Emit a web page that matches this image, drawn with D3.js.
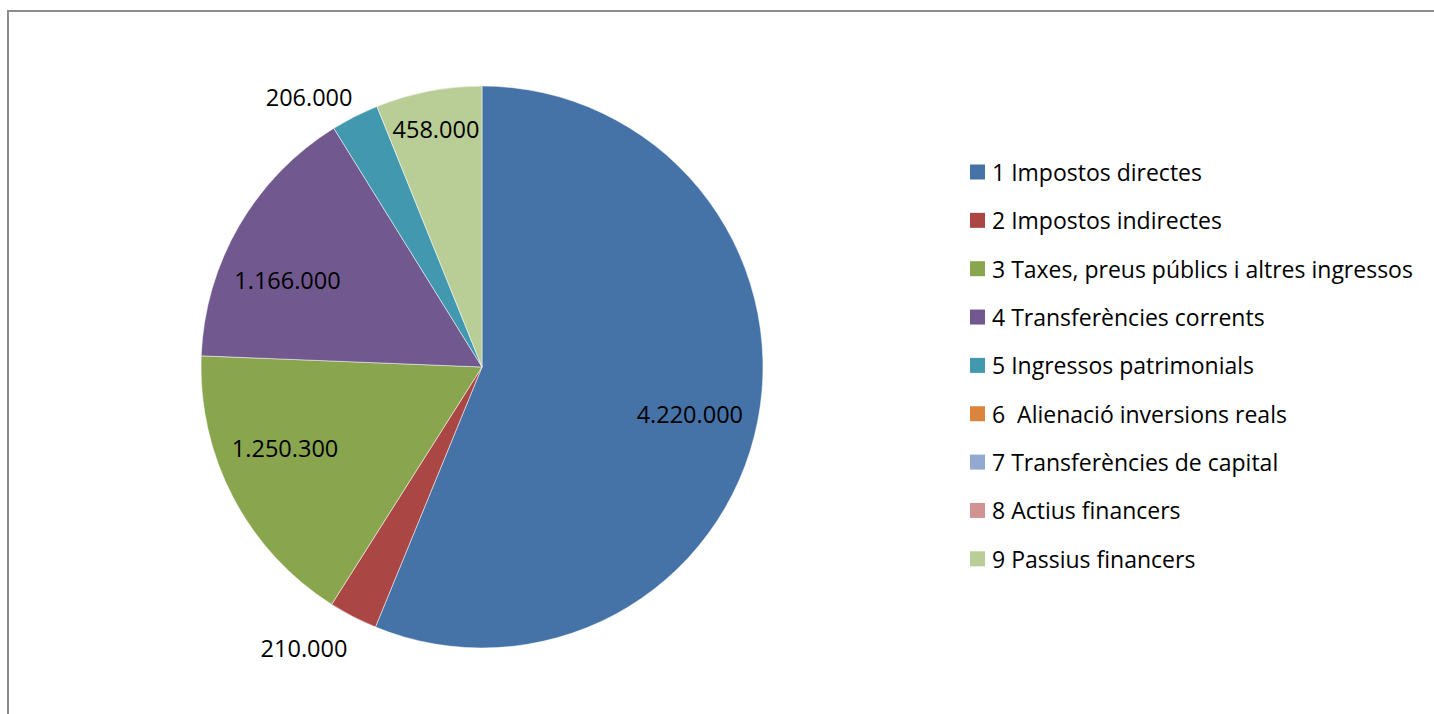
<!DOCTYPE html>
<html lang="ca">
<head>
<meta charset="UTF-8">
<title>Ingressos</title>
<script src="https://d3js.org/d3.v7.min.js"></script>
<style>
  body { margin: 0; background: #fff; }
  svg { display: block; font-family: "Open Sans", Lato, sans-serif; }
  text { white-space: pre; }
</style>
</head>
<body>
<div id="chart"></div>
<script>
const categories = [
  "1 Impostos directes",
  "2 Impostos indirectes",
  "3 Taxes, preus públics i altres ingressos",
  "4 Transferències corrents",
  "5 Ingressos patrimonials",
  "6  Alienació inversions reals",
  "7 Transferències de capital",
  "8 Actius financers",
  "9 Passius financers"
];
const values = [4220000, 210000, 1250300, 1166000, 206000, 0, 0, 0, 458000];
const colors = ["#4572A7", "#AA4643", "#89A54E", "#71588F", "#4198AF",
                "#DB843D", "#93A9CF", "#D19392", "#B9CD96"];

const width = 1434, height = 714;
const cx = 482, cy = 367, radius = 281;

// label placement (Excel "best fit"): radius and small angle nudge in degrees
const labelRadius = [213, 333, 213, 213, 321, 0, 0, 0, 242];
const labelNudge = [1.5, 5, 5.3, -6.2, -5.7, 0, 0, 0, 0];

const fmt = v => d3.format(",")(v).replace(/,/g, ".");

const svg = d3.select("#chart").append("svg")
  .attr("width", width).attr("height", height);

// chart frame (only top and left edges are visible)
svg.append("rect")
  .attr("x", 8).attr("y", 11)
  .attr("width", width + 20).attr("height", height + 20)
  .attr("fill", "none").attr("stroke", "#8c8c8c").attr("stroke-width", 2);

const pie = d3.pie().sort(null).value(d => d);
const arcs = pie(values);
const arc = d3.arc().innerRadius(0).outerRadius(radius);

const g = svg.append("g").attr("transform", `translate(${cx},${cy})`);

g.selectAll("path")
  .data(arcs.filter(d => d.value > 0))
  .join("path")
  .attr("d", arc)
  .attr("fill", d => colors[d.index])
  .attr("stroke", "#fff")
  .attr("stroke-width", 0.5);

g.selectAll("text")
  .data(arcs.filter(d => d.value > 0))
  .join("text")
  .attr("x", d => {
    const a = (d.startAngle + d.endAngle) / 2 + labelNudge[d.index] * Math.PI / 180;
    return labelRadius[d.index] * Math.sin(a);
  })
  .attr("y", d => {
    const a = (d.startAngle + d.endAngle) / 2 + labelNudge[d.index] * Math.PI / 180;
    return -labelRadius[d.index] * Math.cos(a);
  })
  .attr("text-anchor", "middle")
  .attr("dominant-baseline", "central")
  .attr("font-size", 23.5)
  .attr("fill", "#000")
  .text(d => fmt(d.value));

// legend
const legend = svg.append("g").attr("transform", "translate(970,172)");
const rowStep = 48.35;

const rows = legend.selectAll("g")
  .data(categories)
  .join("g")
  .attr("transform", (d, i) => `translate(0,${i * rowStep})`);

rows.append("rect")
  .attr("x", 0).attr("y", -7.5)
  .attr("width", 15).attr("height", 15)
  .attr("fill", (d, i) => colors[i]);

rows.append("text")
  .attr("x", 22).attr("y", 0)
  .attr("dominant-baseline", "central")
  .attr("font-size", 23)
  .attr("fill", "#000")
  .text(d => d);
</script>
</body>
</html>
